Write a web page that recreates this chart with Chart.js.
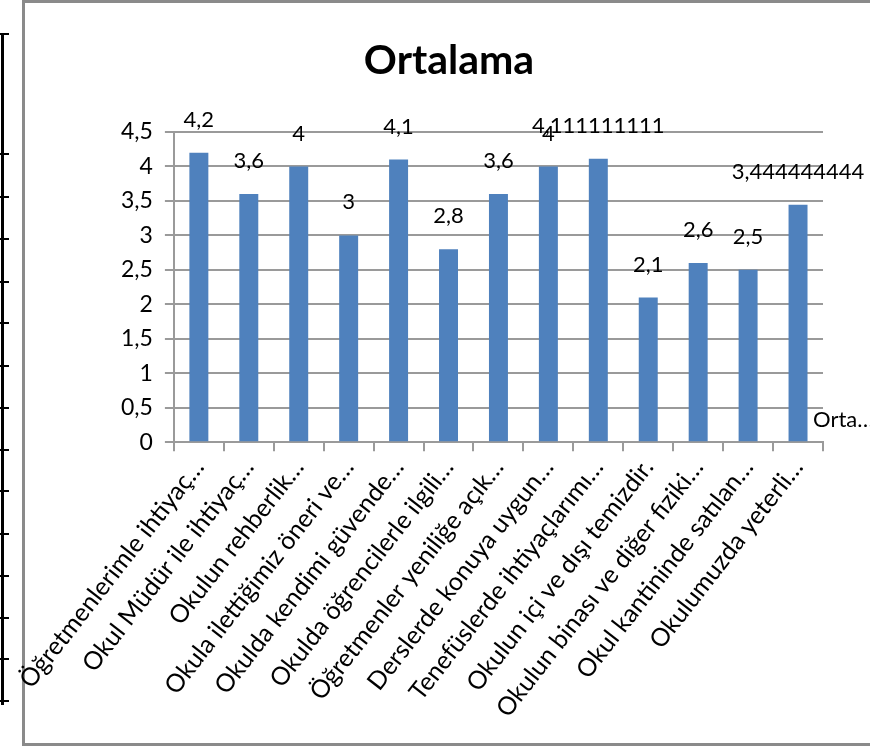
<!DOCTYPE html>
<html>
<head>
<meta charset="utf-8">
<script src="https://cdn.jsdelivr.net/npm/chart.js@4.4.0/dist/chart.umd.min.js"></script>
<style>
  html, body { margin: 0; padding: 0; background: #fff; }
  body { width: 870px; height: 747px; position: relative; overflow: hidden; }
  #frame { position: absolute; left: 22px; top: 0; width: 870px; height: 746px; border: 3px solid #8a8a8a; box-sizing: border-box; }
  #tableLine { position: absolute; left: 1px; top: 33px; width: 3px; height: 672px; background: #000; }
  .tick { position: absolute; left: 0; width: 9px; height: 2px; background: #000; }
  canvas { position: absolute; left: 0; top: 0; }
</style>
</head>
<body>
<div id="tableLine"></div>
<div id="frame"></div>
<canvas id="chart" width="870" height="747"></canvas>
<script>
// --- Dados do gráfico ---
const categorias = [
  'Öğretmenlerimle ihtiyaç…',
  'Okul Müdür ile ihtiyaç…',
  'Okulun rehberlik…',
  'Okula ilettiğimiz öneri ve…',
  'Okulda kendimi güvende…',
  'Okulda öğrencilerle ilgili…',
  'Öğretmenler yeniliğe açık…',
  'Derslerde konuya uygun…',
  'Tenefüslerde ihtiyaçlarımı…',
  'Okulun içi ve dışı temizdir.',
  'Okulun binası ve diğer fiziki…',
  'Okul kantininde satılan…',
  'Okulumuzda yeterli…'
];
const ortalama = [4.2, 3.6, 4, 3, 4.1, 2.8, 3.6, 4, 4.111111111, 2.1, 2.6, 2.5, 3.444444444];
const eixoY = { min: 0, max: 4.5, passo: 0.5 };
const titulo = 'Ortalama';
const legenda = 'Orta…';

// marcas da tabela à esquerda (decoração da página)
[33, 153, 196, 238, 281, 322, 365, 407, 449, 490, 533, 575, 617, 658, 700].forEach(y => {
  const d = document.createElement('div');
  d.className = 'tick';
  d.style.top = y + 'px';
  document.body.appendChild(d);
});

const fonte = "Lato, 'Open Sans', sans-serif";
const virgula = v => String(v).replace('.', ',');

// Plugin para rótulos de dados, título e legenda
const rotulosPlugin = {
  id: 'rotulos',
  afterDatasetsDraw(chart) {
    const ctx = chart.ctx;
    const area = chart.chartArea;
    ctx.save();
    ctx.fillStyle = '#000';
    ctx.textAlign = 'center';
    ctx.textBaseline = 'middle';
    ctx.font = '22px ' + fonte;
    chart.getDatasetMeta(0).data.forEach((bar, i) => {
      ctx.fillText(virgula(ortalama[i]), bar.x, bar.y - 33);
    });

    ctx.font = 'bold 41px ' + fonte;
    ctx.fillText(titulo, 449, 61);

    ctx.textAlign = 'left';
    ctx.font = '22px ' + fonte;
    ctx.fillText(legenda, area.right - 10, area.bottom - 22);
    ctx.restore();
  }
};

const ctx = document.getElementById('chart').getContext('2d');
new Chart(ctx, {
  type: 'bar',
  data: {
    labels: categorias,
    datasets: [{
      label: 'Ortalama',
      data: ortalama,
      backgroundColor: '#4F81BD',
      borderWidth: 0,
      barPercentage: 0.38,
      categoryPercentage: 1.0
    }]
  },
  options: {
    responsive: false,
    animation: false,
    layout: { padding: { left: 109, right: 47, top: 132, bottom: 22 } },
    plugins: {
      legend: { display: false },
      title: { display: false },
      tooltip: { enabled: false }
    },
    scales: {
      x: {
        grid: { drawOnChartArea: false, drawTicks: true, tickLength: 9, color: '#9a9a9a', lineWidth: 2 },
        border: { color: '#9a9a9a', width: 2 },
        ticks: {
          autoSkip: false, minRotation: 52, maxRotation: 52, padding: 2,
          color: '#000', font: { family: fonte, size: 25 }
        }
      },
      y: {
        min: eixoY.min, max: eixoY.max,
        grid: { color: '#9a9a9a', lineWidth: 2, tickLength: 9 },
        border: { color: '#9a9a9a', width: 2 },
        ticks: {
          stepSize: eixoY.passo, padding: 12, color: '#000',
          font: { family: fonte, size: 23 },
          callback: v => virgula(v)
        }
      }
    }
  },
  plugins: [rotulosPlugin]
});
</script>
</body>
</html>
